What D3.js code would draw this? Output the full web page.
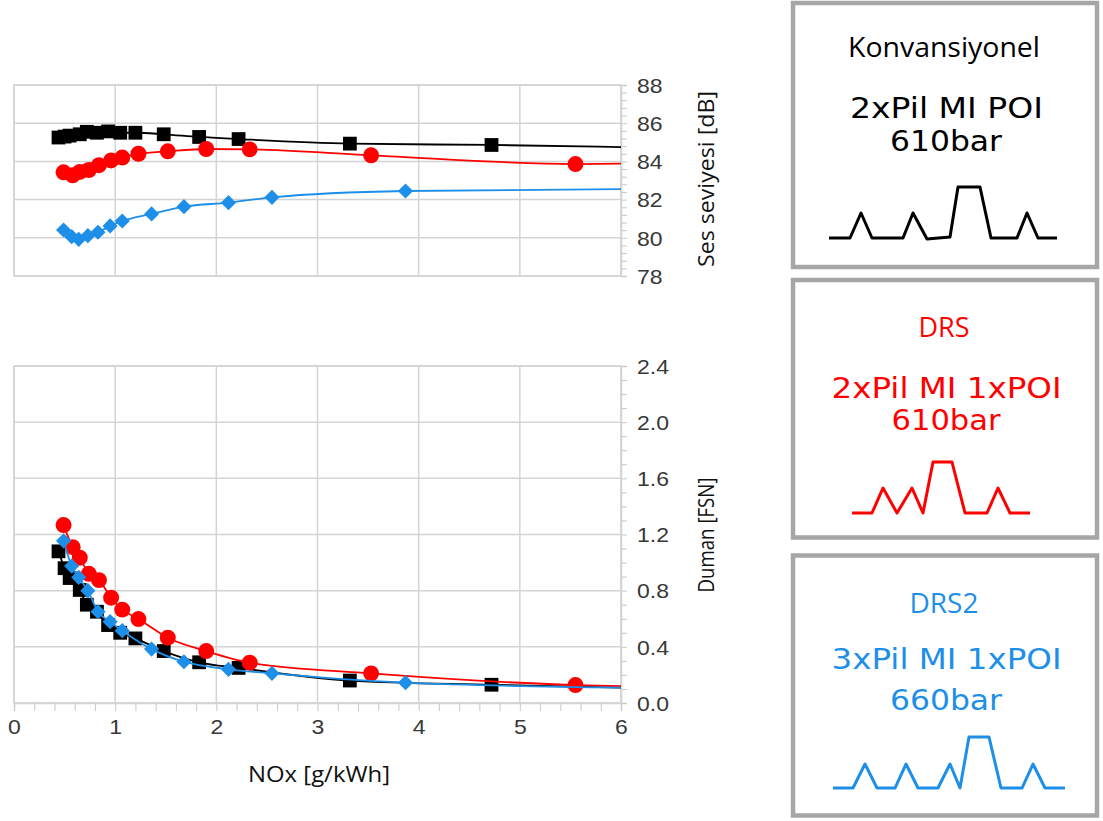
<!DOCTYPE html>
<html><head><meta charset="utf-8">
<script src="https://cdn.jsdelivr.net/npm/d3@7"></script>
<style>body{margin:0;background:#fff} svg{display:block}</style>
</head><body>
<svg id="c" width="1103" height="821"></svg>
<script>
// ---------------- data ----------------
const blackNox = [0.44,0.50,0.55,0.65,0.72,0.82,0.93,1.05,1.20,1.48,1.83,2.22,3.32,4.72];
const blackDb  = [85.25,85.30,85.35,85.42,85.55,85.50,85.57,85.50,85.50,85.42,85.28,85.17,84.93,84.86];
const blackFsn = [1.08,0.96,0.89,0.805,0.70,0.65,0.555,0.50,0.46,0.37,0.29,0.25,0.16,0.13];
const redNox = [0.49,0.58,0.65,0.74,0.84,0.96,1.07,1.23,1.52,1.90,2.33,3.53,5.55];
const redDb  = [83.43,83.27,83.45,83.55,83.80,84.05,84.20,84.40,84.53,84.65,84.63,84.32,83.86];
const redFsn = [1.267,1.11,1.035,0.92,0.875,0.75,0.665,0.598,0.465,0.37,0.287,0.211,0.128];
const blueNox = [0.49,0.57,0.64,0.73,0.83,0.95,1.07,1.36,1.68,2.12,2.55,3.87];
const blueDb  = [80.41,80.06,79.92,80.11,80.29,80.62,80.88,81.25,81.63,81.84,82.12,82.45];
const blueFsn = [1.155,0.975,0.895,0.80,0.65,0.579,0.515,0.384,0.294,0.24,0.211,0.145];
// trend-line end values at the right edge (NOx = 6)
const trendEndNox = 6;
const blackDbEnd = 84.75, redDbEnd = 83.88, blueDbEnd = 82.55;
const blackFsnEnd = 0.11, redFsnEnd = 0.12, blueFsnEnd = 0.11;

const xTicks = [0,1,2,3,4,5,6];
const dbTicks = [78,80,82,84,86,88];
const fsnTicks = [0,0.4,0.8,1.2,1.6,2.0,2.4];
const xTitle = "NOx [g/kWh]";
const dbTitle = "Ses seviyesi [dB]";
const fsnTitle = "Duman [FSN]";
const legendTitles = ["Konvansiyonel","DRS","DRS2"];
const legendLine1 = ["2xPil MI POI","2xPil MI 1xPOI","3xPil MI 1xPOI"];
const legendLine2 = ["610bar","610bar","660bar"];

// ---------------- setup ----------------
const BLACK = "#000000", RED = "#ff0000", BLUE = "#1e8fe8";
const GRID = "#d4d4d4";
const TICKFONT = "'Liberation Sans', Arial, sans-serif";
const svg = d3.select("#c");

const x = d3.scaleLinear().domain([0,6]).range([14,621]);
const yDb = d3.scaleLinear().domain([78,88]).range([276,85]);
const yFsn = d3.scaleLinear().domain([0,2.4]).range([703,366]);

function zip(xs, ys){ return xs.map((v,i)=>[v, ys[i]]); }

function panel(yScale, ticks, minorStep){
  const g = svg.append("g");
  const [y0,y1] = yScale.range();
  g.selectAll(".vg").data(xTicks).join("line")
    .attr("x1", d=>x(d)).attr("x2", d=>x(d)).attr("y1", y1).attr("y2", y0)
    .attr("stroke", GRID).attr("stroke-width", 1.5);
  g.selectAll(".hg").data(ticks).join("line")
    .attr("x1", x(0)).attr("x2", x(6)).attr("y1", d=>yScale(d)).attr("y2", d=>yScale(d))
    .attr("stroke", GRID).attr("stroke-width", 1.5);
  const dom = yScale.domain();
  const minor = d3.range(dom[0], dom[1] + minorStep/2, minorStep);
  const ax = g.append("g").attr("transform", `translate(${x(6)},0)`)
    .call(d3.axisRight(yScale).tickValues(minor).tickSize(6).tickFormat(""));
  ax.select(".domain").attr("stroke", GRID).attr("stroke-width", 1.5);
  ax.selectAll(".tick line").attr("stroke", "#c8c8c8");
  const fmt = ticks[1] - ticks[0] < 1 ? d3.format(".1f") : d3.format("d");
  const lab = g.append("g").attr("transform", `translate(${x(6)},0)`)
    .call(d3.axisRight(yScale).tickValues(ticks).tickSize(0).tickFormat(fmt));
  lab.select(".domain").remove();
  lab.selectAll("text").attr("x", 0).attr("dy", "0.36em")
    .attr("transform", "translate(16,0) scale(1.15,1)")
    .attr("font-family", TICKFONT)
    .attr("font-size", 20).attr("fill", "#383838");
  return g;
}

panel(yDb, dbTicks, 0.4);
panel(yFsn, fsnTicks, 0.1);

// bottom x axis
const xMinor = d3.range(0, 6.01, 0.2);
const xa = svg.append("g").attr("transform", `translate(0,${yFsn(0)})`)
  .call(d3.axisBottom(x).tickValues(xMinor).tickSize(8).tickFormat(""));
xa.select(".domain").attr("stroke", GRID).attr("stroke-width", 1.5);
xa.selectAll(".tick line").attr("stroke", "#c8c8c8");
const xl = svg.append("g").attr("transform", `translate(0,${yFsn(0)})`)
  .call(d3.axisBottom(x).tickValues(xTicks).tickSize(0).tickFormat(d3.format("d")));
xl.select(".domain").remove();
xl.selectAll("text").attr("y", 0).attr("dy", "0.71em")
  .attr("transform", "translate(0,17) scale(1.15,1)")
  .attr("font-family", TICKFONT)
  .attr("font-size", 20).attr("fill", "#383838");

// plot borders
[yDb, yFsn].forEach(ys=>{
  const [b,t] = ys.range();
  svg.append("rect").attr("x", x(0)).attr("y", t).attr("width", x(6)-x(0)).attr("height", b-t)
    .attr("fill","none").attr("stroke", GRID).attr("stroke-width", 1.5);
});

// ---------------- series ----------------
function series(g, yScale, xs, ys, endVal, color, shape){
  const pts = zip(xs, ys);
  const linePts = pts.concat([[trendEndNox, endVal]]);
  const line = d3.line().x(d=>x(d[0])).y(d=>yScale(d[1])).curve(d3.curveMonotoneX);
  g.append("path").datum(linePts).attr("d", line)
    .attr("fill","none").attr("stroke", color).attr("stroke-width", 1.8);
  let sym;
  if (shape === "square") sym = d3.symbol(d3.symbolSquare, 190);
  else if (shape === "circle") sym = d3.symbol(d3.symbolCircle, 200);
  else sym = d3.symbol(d3.symbolSquare, 115);
  g.selectAll(null).data(pts).join("path")
    .attr("d", sym)
    .attr("transform", d=>`translate(${x(d[0])},${yScale(d[1])})` + (shape==="diamond" ? " rotate(45)" : ""))
    .attr("fill", color);
}

const sTop = svg.append("g");
series(sTop, yDb, blackNox, blackDb, blackDbEnd, BLACK, "square");
series(sTop, yDb, redNox, redDb, redDbEnd, RED, "circle");
series(sTop, yDb, blueNox, blueDb, blueDbEnd, BLUE, "diamond");
const sBot = svg.append("g");
series(sBot, yFsn, blackNox, blackFsn, blackFsnEnd, BLACK, "square");
series(sBot, yFsn, redNox, redFsn, redFsnEnd, RED, "circle");
series(sBot, yFsn, blueNox, blueFsn, blueFsnEnd, BLUE, "diamond");

// ---------------- titles ----------------
const OPEN = "'Open Sans', 'Noto Sans', sans-serif";
const DEJA = "'DejaVu Sans', sans-serif";
function txt(t, cx, cy, size, family, color, len, rot){
  const el = svg.append("text").text(t)
    .attr("font-family", family).attr("font-size", size).attr("fill", color)
    .attr("text-anchor","middle")
    .attr("textLength", len).attr("lengthAdjust","spacingAndGlyphs");
  if (rot) el.attr("transform", `translate(${cx},${cy}) rotate(-90)`);
  else el.attr("x", cx).attr("y", cy);
  return el;
}
txt(dbTitle, 714, 179, 22, OPEN, "#111", 176, true);
txt(fsnTitle, 714, 535, 22, OPEN, "#111", 115, true);
txt(xTitle, 319, 782, 22, OPEN, "#111", 142, false);

// ---------------- legend boxes ----------------
const boxes = [
  {top:3, bottom:267, color:BLACK, t:[56.5,118,151.3], len:[192,193,112]},
  {top:280, bottom:537.5, color:RED, t:[336.7,398,430], len:[51,230,109]},
  {top:555.5, bottom:815.5, color:BLUE, t:[612.7,669,710.3], len:[69,230,112]}
];
const waves = [
  [[829,238],[850,238],[861,213],[872,238],[903,238],[913,213],[927,239],[950,237],[958,187],[980,187],[991,238],[1017,238],[1027,213],[1038,238],[1057,238]],
  [[852,513],[872,513],[883,488],[897,513],[912,488],[923,513],[933,462],[952,462],[965,513],[987,513],[998,488],[1010,513],[1030,513]],
  [[833,788],[853,788],[865,764],[877,788],[895,788],[906,764],[918,788],[938,788],[950,764],[960,788],[969,737],[989,737],[1001,788],[1022,788],[1033,764],[1045,788],[1065,788]]
];
boxes.forEach((b,i)=>{
  svg.append("rect").attr("x",793).attr("y",b.top).attr("width",1097-793).attr("height",b.bottom-b.top)
    .attr("fill","#fff").attr("stroke","#a6a6a6").attr("stroke-width",4.5);
  txt(legendTitles[i], 944, b.t[0], 28, OPEN, b.color, b.len[0], false);
  txt(legendLine1[i], 946.5, b.t[1], 28, DEJA, b.color, b.len[1], false);
  txt(legendLine2[i], 946, b.t[2], 28, DEJA, b.color, b.len[2], false);
  svg.append("path").datum(waves[i]).attr("d", d3.line())
    .attr("fill","none").attr("stroke", b.color).attr("stroke-width", 3).attr("stroke-linejoin","round");
});
</script>
</body></html>
